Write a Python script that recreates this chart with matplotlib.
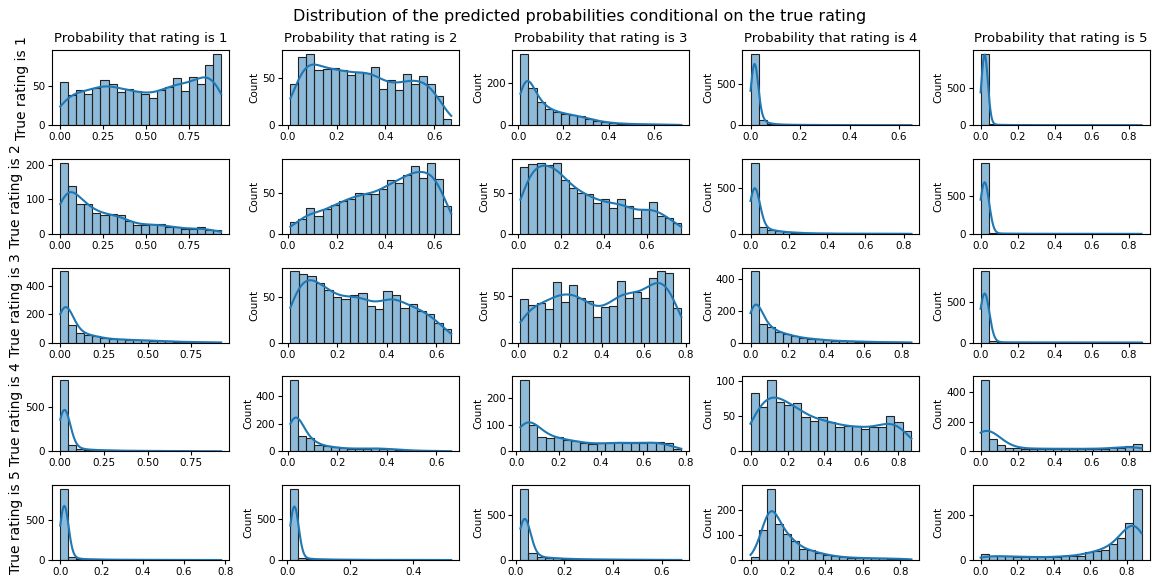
import numpy as np
import matplotlib
matplotlib.use('Agg')
import matplotlib.pyplot as plt
from matplotlib.ticker import MultipleLocator, MaxNLocator

# x range of each panel (row = true rating, col = predicted class)
ranges = [
    [(0.0, 0.94), (0.01, 0.67), (0.01, 0.72), (0.0, 0.65), (0.0, 0.87)],
    [(0.0, 0.94), (0.01, 0.67), (0.01, 0.76), (0.0, 0.84), (0.0, 0.87)],
    [(0.0, 0.92), (0.01, 0.66), (0.01, 0.78), (0.0, 0.85), (0.0, 0.87)],
    [(0.0, 0.92), (0.01, 0.66), (0.02, 0.78), (0.0, 0.87), (0.0, 0.87)],
    [(0.0, 0.78), (0.01, 0.52), (0.02, 0.68), (0.0, 0.86), (0.0, 0.88)],
]

counts = [
    [[55, 38, 45, 40, 48, 57, 52, 42, 46, 44, 40, 35, 45, 49, 60, 44, 61, 52, 77, 91],
     [43, 72, 75, 58, 59, 60, 58, 53, 56, 55, 61, 38, 48, 37, 54, 43, 52, 43, 31, 7],
     [340, 175, 110, 78, 65, 55, 48, 42, 30, 22, 15, 10, 8, 6, 5, 4, 4, 3, 3, 2],
     [870, 60, 20, 10, 6, 5, 4, 3, 3, 2, 2, 2, 2, 1, 1, 1, 1, 1, 1, 1],
     [950, 10, 4, 3, 2, 2, 2, 1, 1, 1, 1, 1, 1, 1, 1, 1, 1, 1, 1, 1]],
    [[207, 138, 88, 87, 62, 55, 57, 55, 36, 25, 27, 28, 28, 20, 20, 15, 13, 19, 12, 11],
     [15, 18, 32, 22, 31, 36, 41, 43, 50, 49, 49, 55, 66, 63, 73, 84, 69, 88, 68, 34],
     [83, 86, 88, 85, 88, 66, 56, 51, 49, 38, 43, 32, 43, 34, 20, 31, 39, 22, 20, 14],
     [780, 80, 45, 30, 20, 15, 10, 7, 5, 5, 4, 3, 3, 3, 2, 2, 2, 2, 2, 2],
     [950, 10, 5, 4, 3, 3, 2, 2, 2, 2, 2, 2, 2, 2, 2, 2, 2, 2, 2, 2]],
    [[500, 125, 70, 55, 45, 30, 25, 22, 20, 18, 15, 13, 10, 8, 7, 5, 4, 3, 3, 2],
     [79, 76, 74, 66, 58, 50, 48, 53, 55, 40, 37, 57, 53, 38, 43, 35, 32, 22, 15],
     [46, 40, 42, 36, 65, 43, 61, 47, 44, 27, 38, 39, 66, 48, 54, 47, 69, 76, 74, 37],
     [450, 120, 100, 65, 55, 40, 30, 25, 20, 15, 12, 10, 8, 7, 5, 4, 3, 3, 2, 2],
     [870, 15, 5, 3, 3, 2, 2, 2, 2, 2, 2, 2, 2, 2, 2, 2, 2, 2, 2, 2]],
    [[810, 70, 30, 20, 15, 12, 10, 8, 7, 6, 5, 5, 4, 4, 3, 3, 3, 3, 2, 2],
     [520, 115, 95, 45, 38, 30, 22, 20, 20, 20, 22, 20, 17, 12, 8, 6, 4, 3, 3, 2],
     [270, 100, 55, 52, 55, 42, 40, 30, 27, 30, 30, 35, 33, 30, 30, 36, 37, 30, 8],
     [83, 63, 101, 70, 66, 69, 48, 43, 48, 41, 35, 36, 36, 32, 34, 34, 50, 42, 29],
     [480, 80, 40, 25, 20, 18, 18, 18, 18, 18, 15, 18, 18, 15, 18, 18, 20, 25, 38, 52]],
    [[900, 40, 15, 10, 8, 6, 5, 4, 3, 3, 3, 2, 2, 2, 2, 2, 2, 1, 1, 1],
     [880, 30, 15, 10, 8, 6, 5, 4, 3, 3, 2, 2, 2, 2, 2, 2, 2, 1, 1, 1],
     [790, 80, 35, 25, 20, 15, 12, 10, 8, 7, 6, 5, 5, 4, 4, 3, 3, 2, 2, 2],
     [12, 120, 285, 145, 105, 75, 45, 40, 28, 22, 15, 12, 10, 8, 8, 7, 7, 5, 5, 5],
     [25, 18, 18, 16, 15, 14, 15, 12, 12, 15, 18, 18, 20, 35, 42, 45, 70, 98, 165, 320]],
]

col = '#1f77b4'


def kde_curve(centers, c, lo, hi, width):
    # gaussian kde (scott bandwidth) on the binned values, scaled to counts
    w = np.asarray(c, float)
    n = w.sum()
    mean = np.sum(w * centers) / n
    sd = np.sqrt(np.sum(w * (centers - mean) ** 2) / n)
    bw = sd * n ** (-0.2)
    xs = np.linspace(lo, hi, 200)
    d = np.sum(w[None, :] * np.exp(-0.5 * ((xs[:, None] - centers[None, :]) / bw) ** 2), axis=1)
    d = d / (n * bw * np.sqrt(2 * np.pi))
    return xs, d * n * width


fig, axes = plt.subplots(5, 5, figsize=(11.6, 5.84), dpi=100)
fig.subplots_adjust(left=0.045, right=0.991, top=0.914, bottom=0.041,
                    wspace=0.30, hspace=0.45)
for i in range(5):
    for j in range(5):
        ax = axes[i, j]
        lo, hi = ranges[i][j]
        c = counts[i][j]
        edges = np.linspace(lo, hi, len(c) + 1)
        width = edges[1] - edges[0]
        centers = (edges[:-1] + edges[1:]) / 2
        ax.bar(edges[:-1], c, width=width, align='edge', color=col, alpha=0.5,
               edgecolor='none')
        ax.bar(edges[:-1], c, width=width, align='edge', fill=False,
               edgecolor='#222222', lw=0.8)
        xs, ys = kde_curve(centers, c, lo, hi, width)
        ax.plot(xs, ys, color=col, lw=1.5)
        if j == 0 and i < 4:
            ax.xaxis.set_major_locator(MultipleLocator(0.25))
            ax.xaxis.set_major_formatter('{x:.2f}')
        else:
            ax.xaxis.set_major_locator(MultipleLocator(0.2))
            ax.xaxis.set_major_formatter('{x:.1f}')
        ax.yaxis.set_major_locator(MaxNLocator(nbins=3, steps=[1, 2, 5, 10]))
        if i == 0:
            ax.set_title('Probability that rating is %d' % (j + 1), fontsize=9.5)
        if j == 0:
            ax.set_ylabel('True rating is %d' % (i + 1), fontsize=10, labelpad=2)
        else:
            ax.set_ylabel('Count', fontsize=7.5, labelpad=2)
        ax.tick_params(labelsize=7.5, length=3, pad=2)

fig.suptitle('Distribution of the predicted probabilities conditional on the true rating',
             fontsize=11.5, y=0.985)
fig.savefig('out.png')
